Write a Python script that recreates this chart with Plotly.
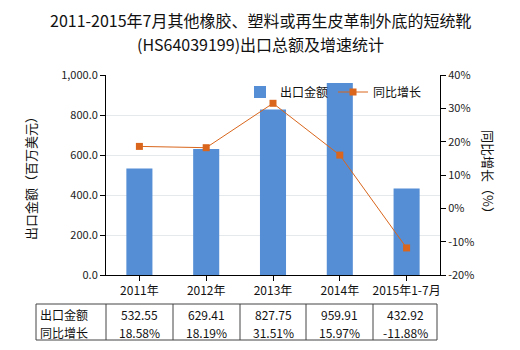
import plotly.graph_objects as go

categories = ["2011年", "2012年", "2013年", "2014年", "2015年1-7月"]
export_value = [532.55, 629.41, 827.75, 959.91, 432.92]
growth_pct = [18.58, 18.19, 31.51, 15.97, -11.88]
left_ticks = [0, 200, 400, 600, 800, 1000]
right_ticks = [-20, -10, 0, 10, 20, 30, 40]
row_names = ["出口金额", "同比增长"]

FONT = "Noto Sans CJK SC"
BAR_COLOR = "#558ed5"
LINE_COLOR = "#d9661c"

W, H = 520, 350
L, R, T, B = 106, 80, 75, 75
PW, PH = W - L - R, H - T - B


def px_x(x):
    return (x - L) / PW


def px_y(y):
    return (H - B - y) / PH


def label(text, x, y, size=12, xanchor="center", **kw):
    return dict(text=text, x=px_x(x), y=px_y(y), xref="paper", yref="paper",
                xanchor=xanchor, yanchor="middle", showarrow=False,
                font=dict(family=FONT, size=size, color="#111"), **kw)


fig = go.Figure()
fig.add_trace(go.Bar(
    x=categories, y=export_value, name="出口金额",
    marker=dict(color=BAR_COLOR, line=dict(width=0)),
    yaxis="y",
))
fig.add_trace(go.Scatter(
    x=categories, y=growth_pct, name="同比增长",
    mode="lines+markers",
    line=dict(color=LINE_COLOR, width=1),
    marker=dict(symbol="square", size=7, color=LINE_COLOR),
    yaxis="y2",
))

annotations = [
    label("2011-2015年7月其他橡胶、塑料或再生皮革制外底的短统靴", 260, 20, size=16),
    label("(HS64039199)出口总额及增速统计", 260, 44, size=16),
    label("出口金额（百万美元）", 30, 175, size=13, textangle=-90),
    label("同比增长（%）", 489, 175, size=13, textangle=90),
]
shapes = []

# data table under the chart
col_edges = [36, 106, 173, 240, 306, 373, 437]
top, bottom = 304, 340
row_y = [314, 332]
shapes.append(dict(type="rect", xref="paper", yref="paper",
                   x0=px_x(col_edges[0]), x1=px_x(col_edges[-1]),
                   y0=px_y(top), y1=px_y(bottom),
                   line=dict(color="#444", width=1)))
for xe in col_edges[1:-1]:
    shapes.append(dict(type="line", xref="paper", yref="paper",
                       x0=px_x(xe), x1=px_x(xe), y0=px_y(top), y1=px_y(bottom),
                       line=dict(color="#444", width=1)))

for r, name in enumerate(row_names):
    annotations.append(label(name, 38, row_y[r], xanchor="left"))

for i in range(len(categories)):
    cx = (col_edges[i + 1] + col_edges[i + 2]) / 2
    annotations.append(label(f"{export_value[i]:.2f}", cx, row_y[0]))
    annotations.append(label(f"{growth_pct[i]:.2f}%", cx, row_y[1]))

fig.update_layout(
    width=W, height=H,
    margin=dict(l=L, r=R, t=T, b=B),
    paper_bgcolor="white", plot_bgcolor="white",
    bargap=0.61,
    showlegend=True,
    legend=dict(
        orientation="h", x=px_x(240), y=px_y(92), xanchor="left", yanchor="middle",
        bgcolor="rgba(0,0,0,0)", font=dict(family=FONT, size=12, color="#111"),
        itemwidth=30, tracegroupgap=0,
    ),
    xaxis=dict(
        type="category", showline=True, linecolor="#000", linewidth=1,
        ticks="outside", ticklen=5, tickcolor="#000",
        tickfont=dict(family=FONT, size=12, color="#111"),
        showgrid=False, zeroline=False,
    ),
    yaxis=dict(
        range=[0, 1000], tickvals=left_ticks,
        ticktext=[f"{v:,.1f}" for v in left_ticks],
        showline=True, linecolor="#000", linewidth=1,
        ticks="outside", ticklen=5, tickcolor="#000",
        tickfont=dict(family=FONT, size=11, color="#222"),
        showgrid=True, gridcolor="#e6e9ec", gridwidth=1, zeroline=False,
    ),
    yaxis2=dict(
        range=[-20, 40], tickvals=right_ticks,
        ticktext=[f"{v}%" for v in right_ticks],
        overlaying="y", side="right", anchor="x",
        showline=True, linecolor="#000", linewidth=1,
        ticks="outside", ticklen=5, tickcolor="#000",
        tickfont=dict(family=FONT, size=11, color="#222"),
        showgrid=False, zeroline=False,
    ),
    annotations=annotations,
    shapes=shapes,
)

fig.write_html("out.html")
